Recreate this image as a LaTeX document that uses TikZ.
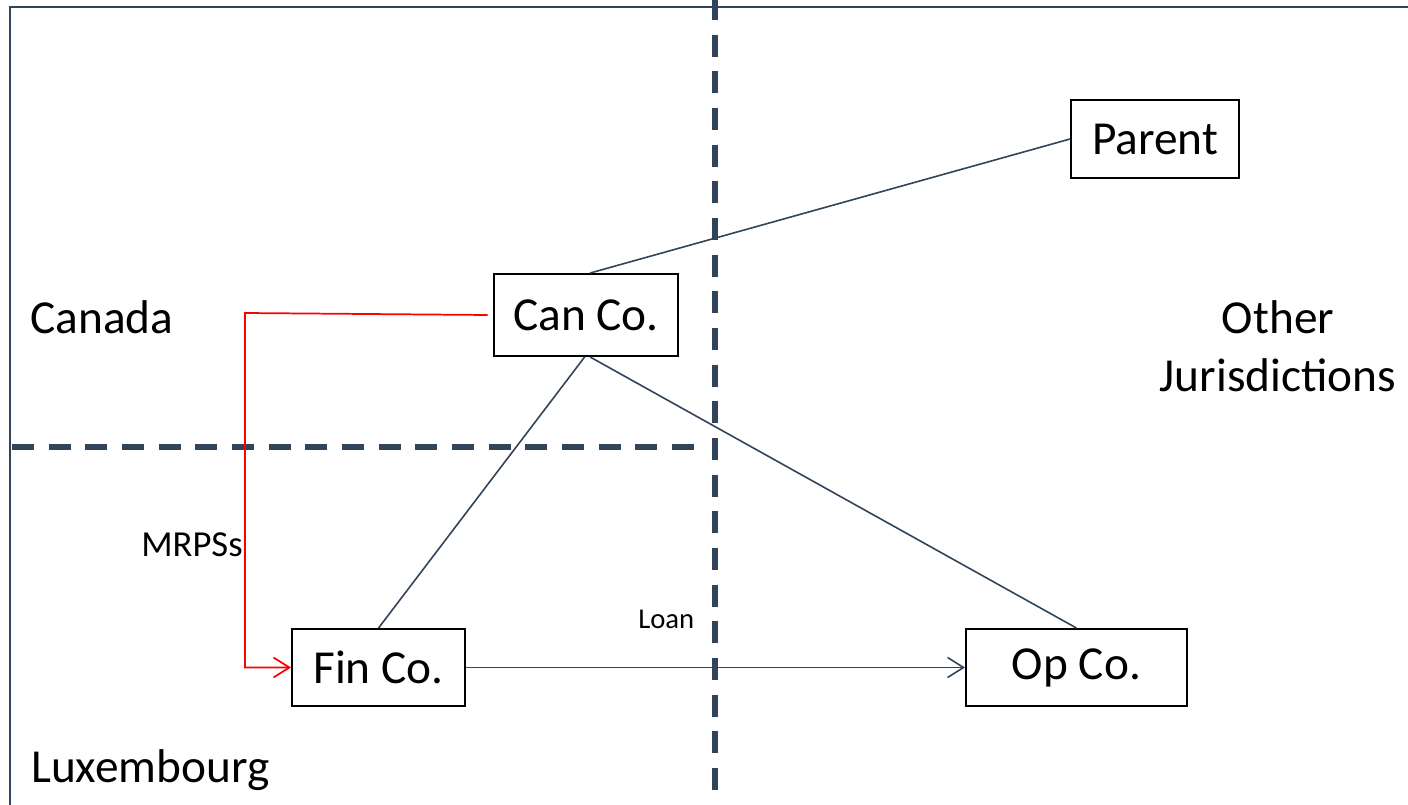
\documentclass[tikz,border=0pt]{standalone}
\usepackage{fontspec}
\setmainfont{Carlito}
\usetikzlibrary{arrows.meta}
\definecolor{slate}{RGB}{50,68,90}
\tikzset{
  px/.style={x=0.75pt,y=-0.75pt},
  frameline/.style={draw=slate,line width=1.5pt},
  border/.style={draw=slate,line width=4.5pt,dash pattern=on 16.5pt off 11pt},
  entity/.style={draw=black,line width=1.4pt,fill=white,inner sep=0pt,font=\fontsize{35.5}{41}\selectfont},
  region/.style={font=\fontsize{35.5}{40}\selectfont,inner sep=0pt},
  link/.style={draw=slate,line width=1.2pt},
  flow/.style={link,-{Straight Barb[length=12pt,width=15pt,line width=1.2pt]}},
  redflow/.style={draw=red,line width=1.3pt,-{Straight Barb[length=12pt,width=15pt,line width=1.3pt]}},
  tag/.style={inner sep=0pt,anchor=base west}
}
\begin{document}
\begin{tikzpicture}[px]
\useasboundingbox (0,0) rectangle (1408,805);
\begin{scope}
\clip (0,0) rectangle (1408,805);
% outer frame (only left and top edges fall inside the page)
\draw[frameline] (10,830) -- (10,7) -- (1430,7);
% jurisdiction boundaries
\draw[border] (715,-2) -- (715,830);
\draw[border] (12,447) -- (706,447);
\end{scope}

% entities
\node[entity,minimum width=126pt,minimum height=58.5pt] (parent) at (1155,139) {Parent};
\node[entity,minimum width=138pt,minimum height=61.5pt] (can) at (586,315) {Can Co.};
\node[entity,minimum width=129.75pt,minimum height=57.75pt] (fin) at (378.5,667.5) {Fin Co.};
\node[entity,minimum width=165.75pt,minimum height=57.75pt] (op) at (1076.5,667.5) {Op Co.};

% region labels
\node[region,anchor=base west] (canada) at (30,333) {Canada};
\node[region,anchor=base west] (lux) at (31,782) {Luxembourg};
\node[region,align=center,anchor=base] (other) at (1278,391) {Other\\[3pt]Jurisdictions};

% ownership lines
\draw[link] (parent.west) -- ([xshift=3pt]can.north);
\draw[link] ([xshift=-1pt]can.south) -- (fin.north);
\draw[link] ([xshift=3pt]can.south) -- (op.north);

% financing flows
\coordinate (rtop) at (245,313);
\coordinate (rbot) at (245,667.5);
\draw[redflow] ([xshift=-4pt]can.west) -- (rtop) -- (rbot) -- (fin.west);
\draw[flow] (fin.east) -- (op.west);

\node[tag,font=\fontsize{27.5}{32}\selectfont] (mrps) at (141,556) {MRPSs};
\node[tag,font=\fontsize{21.5}{25}\selectfont] (loan) at (638,628) {Loan};
\end{tikzpicture}
\end{document}
